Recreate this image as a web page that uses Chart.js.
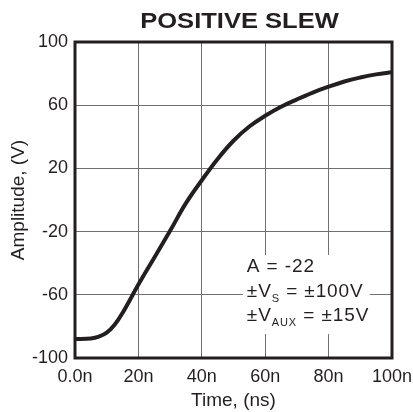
<!DOCTYPE html>
<html>
<head>
<meta charset="utf-8">
<script src="https://cdn.jsdelivr.net/npm/chart.js@4/dist/chart.umd.min.js"></script>
<style>
html,body{margin:0;padding:0;background:#fff;}
#c{display:block;}
</style>
</head>
<body>
<canvas id="c" width="413" height="412"></canvas>
<script>
// ---- data ----
const timeNs = [0, 5, 7.5, 10, 12.5, 15, 20, 25, 30, 35, 40, 45, 50, 55, 60, 65, 70, 75, 80, 85, 90, 95, 100];
const amplitudeV = [-88, -87.6, -86.5, -84, -79, -71.5, -53.5, -36.5, -19.5, -2, 12.5, 26, 37.5, 46.5, 53.3, 59, 63.7, 68, 71.7, 75, 77.5, 79.5, 80.8];
const xTickValues = [0, 20, 40, 60, 80, 100];
const xTickLabels = ['0.0n', '20n', '40n', '60n', '80n', '100n'];
const yTickValues = [-100, -60, -20, 20, 60, 100];
const chartTitle = 'POSITIVE SLEW';
const xAxisTitle = 'Time, (ns)';
const yAxisTitle = 'Amplitude, (V)';
const noteLines = [
  [{t: 'A = -22'}],
  [{t: '\u00B1V'}, {t: 'S', sub: true}, {t: ' = \u00B1100V'}],
  [{t: '\u00B1V'}, {t: 'AUX', sub: true}, {t: ' = \u00B115V'}]
];

const INK = '#231f20';
const FONT = '"Liberation Sans", Arial, Helvetica, sans-serif';

const points = timeNs.map((t, i) => ({x: t, y: amplitudeV[i]}));

const framePlugin = {
  id: 'frameAndNote',
  afterDatasetsDraw(chart) {
    const ctx = chart.ctx;
    const xs = chart.scales.x, ys = chart.scales.y;
    const a = chart.chartArea;
    ctx.save();
    // white box behind the note
    const bx1 = xs.getPixelForValue(53), bx2 = xs.getPixelForValue(93);
    const by1 = ys.getPixelForValue(-34.8), by2 = ys.getPixelForValue(-84.8);
    ctx.fillStyle = '#ffffff';
    ctx.fillRect(bx1, by1, bx2 - bx1, by2 - by1);
    // note text
    ctx.fillStyle = INK;
    ctx.textBaseline = 'alphabetic';
    ctx.textAlign = 'left';
    ctx.letterSpacing = '0.9px';
    const tx = xs.getPixelForValue(54.2);
    const baseVals = [-45.6, -61.2, -76.4];
    noteLines.forEach((line, li) => {
      let x = tx;
      const by = ys.getPixelForValue(baseVals[li]);
      line.forEach(seg => {
        if (seg.sub) {
          ctx.font = '11px ' + FONT;
          ctx.fillText(seg.t, x, by + 5);
        } else {
          ctx.font = '19px ' + FONT;
          ctx.fillText(seg.t, x, by);
        }
        x += ctx.measureText(seg.t).width;
      });
    });
    ctx.letterSpacing = '0px';
    // frame
    ctx.strokeStyle = INK;
    ctx.lineWidth = 3;
    ctx.strokeRect(a.left, a.top, a.right - a.left, a.bottom - a.top);
    // title (horizontally widened like the reference lettering)
    ctx.save();
    ctx.translate((a.left + a.right) / 2 + 6, 28.3);
    ctx.scale(1.16, 1);
    ctx.font = 'bold 22px ' + FONT;
    ctx.textAlign = 'center';
    ctx.fillText(chartTitle, 0, 0);
    ctx.restore();
    ctx.restore();
  }
};

new Chart(document.getElementById('c'), {
  type: 'line',
  data: {
    datasets: [{
      data: points,
      borderColor: INK,
      borderWidth: 4,
      pointRadius: 0,
      tension: 0.4,
      fill: false
    }]
  },
  options: {
    responsive: false,
    animation: false,
    devicePixelRatio: 1,
    layout: {padding: {top: 42, right: 21, bottom: 0, left: 0}},
    plugins: {
      legend: {display: false},
      tooltip: {enabled: false},
      title: {display: false}
    },
    scales: {
      x: {
        type: 'linear',
        min: 0, max: 100,
        afterBuildTicks(scale) { scale.ticks = xTickValues.map(v => ({value: v})); },
        afterFit(scale) { scale.height = 54; scale.paddingLeft = 0; scale.paddingRight = 0; },
        ticks: {
          color: INK,
          font: {family: FONT, size: 18},
          padding: 8,
          maxRotation: 0,
          callback(v) { const i = xTickValues.indexOf(v); return i >= 0 ? xTickLabels[i] : ''; }
        },
        grid: {color: '#707070', lineWidth: 1, drawTicks: false},
        border: {display: false},
        title: {
          display: true, text: xAxisTitle, color: INK,
          font: {family: FONT, size: 19, lineHeight: 1.2},
          padding: {top: 0, bottom: 0}
        }
      },
      y: {
        type: 'linear',
        min: -100, max: 100,
        afterBuildTicks(scale) { scale.ticks = yTickValues.map(v => ({value: v})); },
        afterFit(scale) { scale.width = 75; },
        ticks: {
          color: INK,
          font: {family: FONT, size: 18},
          padding: 7
        },
        grid: {color: '#707070', lineWidth: 1, drawTicks: false},
        border: {display: false},
        title: {
          display: true, text: yAxisTitle, color: INK,
          font: {family: FONT, size: 19, lineHeight: 1.2},
          padding: {top: 7, bottom: 0}
        }
      }
    }
  },
  plugins: [framePlugin]
});
</script>
</body>
</html>
